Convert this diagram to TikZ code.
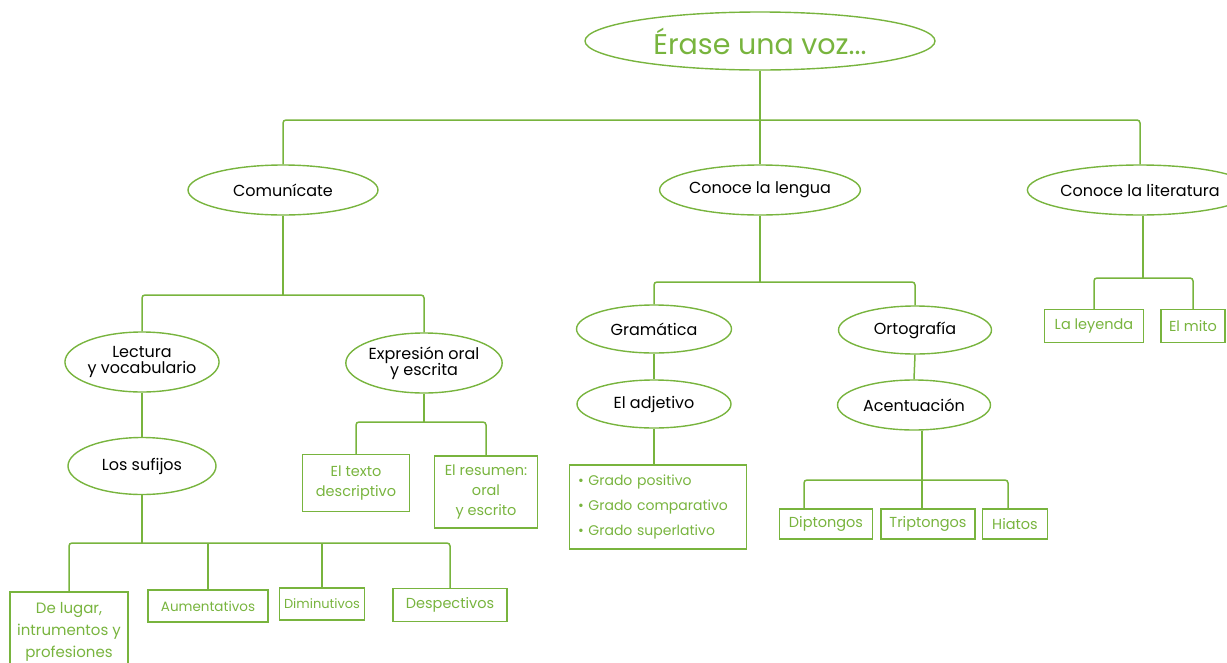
\documentclass[tikz,border=0pt]{standalone}
\usepackage{fontspec}
\setmainfont{Poppins}
\usetikzlibrary{shapes.geometric}
\definecolor{lgreen}{RGB}{120,180,62}
\tikzset{
  ell/.style={ellipse, draw=lgreen, line width=1.4pt, inner sep=0pt, text=black, font=\fontsize{16}{18}\selectfont, align=center},
  leaf/.style={rectangle, draw=lgreen, line width=1.4pt, inner sep=0pt, text=lgreen, font=\fontsize{14.5}{22}\selectfont, align=center},
  conn/.style={draw=lgreen, line width=1.5pt, rounded corners=3pt},
}
\begin{document}
\begin{tikzpicture}[x=1pt,y=-1pt]
\useasboundingbox (0,0) rectangle (1227,662);
\clip (0,0) rectangle (1227,662);
% level 0
\node[ell, minimum width=350pt, minimum height=58pt, text=lgreen, font=\fontsize{28.5}{30}\selectfont] (root) at (760,41) {Érase una voz...};
% level 1
\node[ell, minimum width=190pt, minimum height=50pt] (com) at (283,190) {Comunícate};
\node[ell, minimum width=200pt, minimum height=50pt] (len) at (760,190) {Conoce la lengua};
\node[ell, minimum width=192pt, minimum height=50pt] (lit) at (1140,190) {Conoce la literatura};
% Comunicate branch
\node[ell, minimum width=139pt, minimum height=60pt] (lec) at (142,362) {Lectura\\[-2pt]y vocabulario};
\node[ell, minimum width=152pt, minimum height=60pt] (exp) at (424,363) {Expresión oral\\[-2pt]y escrita};
\node[ell, minimum width=148pt, minimum height=57pt] (suf) at (142,466) {Los sufijos};
\node[leaf, minimum width=118pt, minimum height=80pt, font=\fontsize{15}{22}\selectfont] (lug) at (69,632) {De lugar,\\intrumentos y\\profesiones};
\node[leaf, minimum width=120pt, minimum height=32pt, font=\fontsize{13.5}{16}\selectfont] (aum) at (208,606) {Aumentativos};
\node[leaf, minimum width=85pt, minimum height=32pt, font=\fontsize{13}{16}\selectfont] (dim) at (322,604) {Diminutivos};
\node[leaf, minimum width=114pt, minimum height=33pt] (des) at (450,605) {Despectivos};
\node[leaf, minimum width=107pt, minimum height=57pt, font=\fontsize{14.5}{20}\selectfont] (tex) at (356,483) {El texto\\descriptivo};
\node[leaf, minimum width=103pt, minimum height=72pt, font=\fontsize{14.5}{20}\selectfont] (res) at (486,492) {El resumen:\\oral\\y escrito};
% Lengua branch
\node[ell, minimum width=155pt, minimum height=48pt] (gra) at (654,329) {Gramática};
\node[ell, minimum width=153pt, minimum height=48pt] (ort) at (915,330) {Ortografía};
\node[ell, minimum width=154pt, minimum height=48pt] (adj) at (654,404) {El adjetivo};
\node[ell, minimum width=153pt, minimum height=50pt] (ace) at (914,405) {Acentuación};
\node[leaf, minimum width=177pt, minimum height=84pt, align=left, inner xsep=0pt, font=\fontsize{14}{25}\selectfont, text width=160pt] (gdo) at (658,507) {{\textbullet} Grado positivo\\{\textbullet} Grado comparativo\\{\textbullet} Grado superlativo};
\node[leaf, minimum width=93pt, minimum height=30pt] (dip) at (826,524) {Diptongos};
\node[leaf, minimum width=94pt, minimum height=30pt] (tri) at (928,524) {Triptongos};
\node[leaf, minimum width=65pt, minimum height=30pt] (hia) at (1015,524) {Hiatos};
% Literatura branch
\node[leaf, minimum width=99pt, minimum height=33pt] (ley) at (1094,326) {La leyenda};
\node[leaf, minimum width=64pt, minimum height=33pt] (mit) at (1193,326) {El mito};
% buses
\coordinate (b0) at (760,120);
\coordinate (b1) at (283,295);
\coordinate (b2) at (424,422);
\coordinate (b3) at (142,543);
\coordinate (b4) at (760,282);
\coordinate (b5) at (922,480);
\coordinate (b6) at (1143,278);
\coordinate (b5l) at (804,480);
\coordinate (b5r) at (1008,480);
% connectors
\draw[conn] (root.south) -- (b0);
\draw[conn] (com.north) |- (b0) -| (lit.north);
\draw[conn] (b0) -- (len.north);
\draw[conn] (com.south) -- (b1);
\draw[conn] (lec.north) |- (b1) -| (exp.north);
\draw[conn] (exp.south) -- (b2);
\draw[conn] (tex.north) |- (b2) -| (res.north);
\draw[conn] (lec.south) -- (suf.north);
\draw[conn] (suf.south) -- (b3);
\draw[conn] (lug.north) |- (b3) -| (des.north);
\draw[conn] (aum.north) -- (aum.north |- b3);
\draw[conn] (dim.north) -- (dim.north |- b3);
\draw[conn] (len.south) -- (b4);
\draw[conn] (gra.north) |- (b4) -| (ort.north);
\draw[conn] (gra.south) -- (adj.north);
\draw[conn] (adj.south) -- (gdo.north -| adj.south);
\draw[conn] (ort.south) -- (ace.north);
\draw[conn] (ace.south -| b5) -- (b5);
\draw[conn] (dip.north -| b5l) -- (b5l) -- (b5r) -- (hia.north -| b5r);
\draw[conn] (tri.north -| b5) -- (b5);
\draw[conn] (lit.south -| b6) -- (b6);
\draw[conn] (ley.north) |- (b6) -| (mit.north);
\end{tikzpicture}
\end{document}
